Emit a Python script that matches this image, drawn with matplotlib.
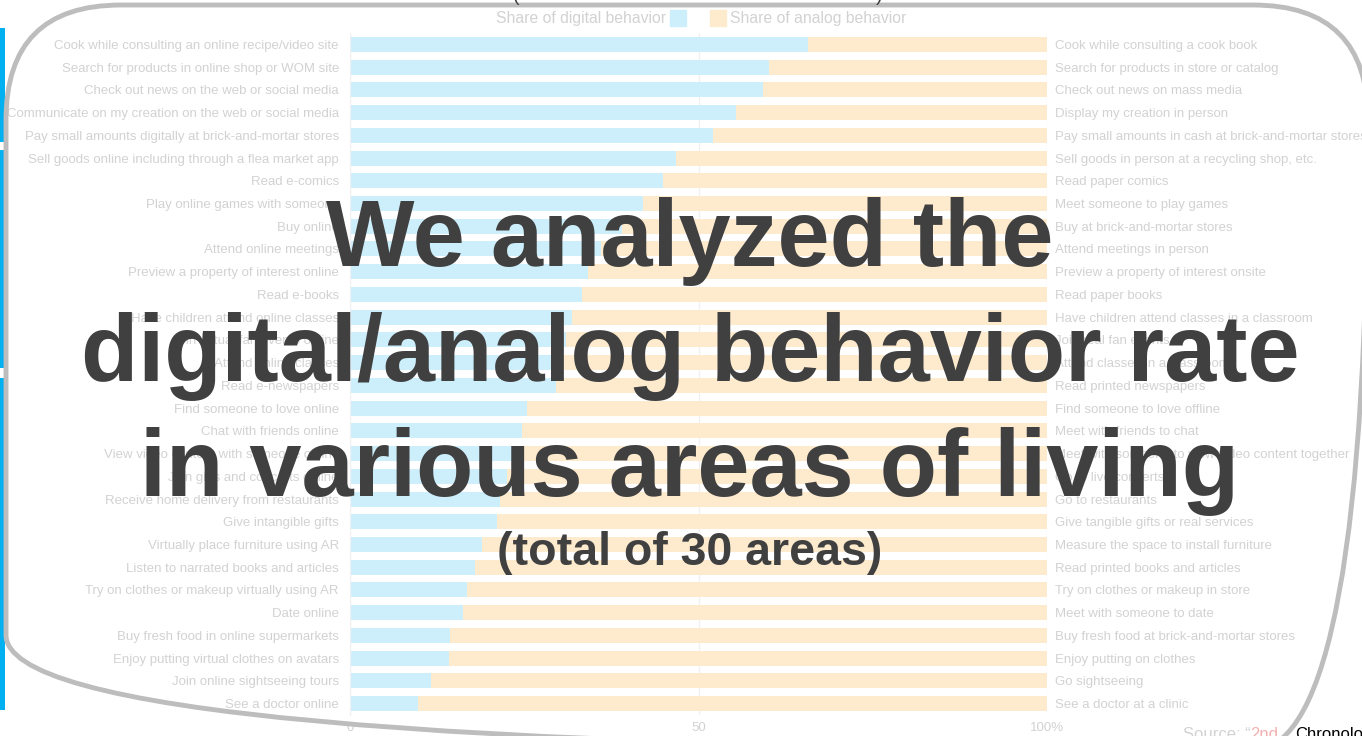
import numpy as np
import matplotlib.pyplot as plt
from matplotlib.patches import FancyBboxPatch, Rectangle

plt.rcParams['font.family'] = ['Liberation Sans', 'DejaVu Sans']

# Digital-side activities (left labels), top to bottom
digital_labels = [
    "Cook while consulting an online recipe/video site",
    "Search for products in online shop or WOM site",
    "Check out news on the web or social media",
    "Communicate on my creation on the web or social media",
    "Pay small amounts digitally at brick-and-mortar stores",
    "Sell goods online including through a flea market app",
    "Read e-comics",
    "Play online games with someone",
    "Buy online",
    "Attend online meetings",
    "Preview a property of interest online",
    "Read e-books",
    "Have children attend online classes",
    "Join virtual fan events online",
    "Attend online classes",
    "Read e-newspapers",
    "Find someone to love online",
    "Chat with friends online",
    "View video content with someone online",
    "Join gigs and concerts online",
    "Receive home delivery from restaurants",
    "Give intangible gifts",
    "Virtually place furniture using AR",
    "Listen to narrated books and articles",
    "Try on clothes or makeup virtually using AR",
    "Date online",
    "Buy fresh food in online supermarkets",
    "Enjoy putting virtual clothes on avatars",
    "Join online sightseeing tours",
    "See a doctor online",
]

# Analog-side counterparts (right labels)
analog_labels = [
    "Cook while consulting a cook book",
    "Search for products in store or catalog",
    "Check out news on mass media",
    "Display my creation in person",
    "Pay small amounts in cash at brick-and-mortar stores",
    "Sell goods in person at a recycling shop, etc.",
    "Read paper comics",
    "Meet someone to play games",
    "Buy at brick-and-mortar stores",
    "Attend meetings in person",
    "Preview a property of interest onsite",
    "Read paper books",
    "Have children attend classes in a classroom",
    "Join real fan events",
    "Attend classes in a classroom",
    "Read printed newspapers",
    "Find someone to love offline",
    "Meet with friends to chat",
    "Meet with someone to view video content together",
    "Go to live concerts",
    "Go to restaurants",
    "Give tangible gifts or real services",
    "Measure the space to install furniture",
    "Read printed books and articles",
    "Try on clothes or makeup in store",
    "Meet with someone to date",
    "Buy fresh food at brick-and-mortar stores",
    "Enjoy putting on clothes",
    "Go sightseeing",
    "See a doctor at a clinic",
]

# Share of digital behavior (%)
digital_share = [65.7, 60.1, 59.3, 55.4, 52.1, 46.8, 44.9, 42.0, 39.0, 36.0,
                 34.1, 33.3, 31.9, 31.0, 30.2, 29.6, 25.4, 24.7, 23.5, 22.5,
                 21.5, 21.1, 18.9, 17.9, 16.8, 16.2, 14.3, 14.2, 11.6, 9.8]
analog_share = [100 - v for v in digital_share]

x_ticks = [0, 50, 100]
x_ticklabels = ["0", "50", "100%"]

headline = ["We analyzed the", "digital/analog behavior rate", "in various areas of living"]

W, H = 1362, 736
fig = plt.figure(figsize=(W / 100, H / 100), dpi=100)

faded_text = '#d2d2d2'
blue = '#cdeffc'
orange = '#feebcd'

# Main chart axes
ax = fig.add_axes([350 / W, 1 - 715 / H, 697 / W, 682 / H])
y = np.arange(len(digital_labels))
ax.barh(y, digital_share, height=0.66, color=blue, zorder=2)
ax.barh(y, analog_share, left=digital_share, height=0.66, color=orange, zorder=2)
ax.set_xlim(0, 100)
ax.set_ylim(len(y) - 0.5, -0.5)
ax.set_yticks(y)
ax.set_yticklabels(digital_labels)
ax.set_xticks(x_ticks)
ax.set_xticklabels(x_ticklabels)
ax.tick_params(axis='y', length=0, pad=8, labelsize=9.5, labelcolor=faded_text)
ax.tick_params(axis='x', length=0, pad=5, labelsize=9.5, labelcolor=faded_text)
ax.grid(axis='x', color='#f0f0f0', linewidth=1, zorder=0)
for s in ['top', 'right', 'bottom']:
    ax.spines[s].set_visible(False)
ax.spines['left'].set_color('#f0f0f0')

# Right-hand labels
ax2 = ax.twinx()
ax2.set_ylim(ax.get_ylim())
ax2.set_yticks(y)
ax2.set_yticklabels(analog_labels)
ax2.tick_params(axis='y', length=0, pad=5.5, labelsize=9.5, labelcolor=faded_text)
for s in ax2.spines.values():
    s.set_visible(False)

# Overlay in pixel coordinates
ov = fig.add_axes([0, 0, 1, 1], zorder=5)
ov.set_xlim(0, W)
ov.set_ylim(H, 0)
ov.axis('off')
ov.patch.set_alpha(0)

# Legend
ov.text(666, 18, "Share of digital behavior", ha='right', va='center',
        fontsize=11.3, color=faded_text)
ov.add_patch(Rectangle((670, 10), 16, 16, color=blue))
ov.add_patch(Rectangle((710, 10), 16, 16, color=orange))
ov.text(730, 18, "Share of analog behavior", ha='left', va='center',
        fontsize=11.3, color=faded_text)

# Tails of a title hidden above the frame
ov.text(516, 1, "(", ha='center', va='baseline', fontsize=14, color='#404040')
ov.text(879, 1, ")", ha='center', va='baseline', fontsize=14, color='#404040')

# Blue side strips
for y0, y1 in [(28, 142), (150, 368), (378, 710)]:
    ov.add_patch(Rectangle((0, y0), 5, y1 - y0, color='#00b0f0', lw=0))

# Rounded frame
ov.add_patch(FancyBboxPatch((6, 5), 1362, 745,
                            boxstyle="round,pad=0,rounding_size=115",
                            fill=False, edgecolor='#bdbdbd', linewidth=3.5))

# Headline
for line, base in zip(headline, [266, 381, 496]):
    ov.text(690, base, line, ha='center', va='baseline', fontsize=67.5,
            fontweight='bold', color='#404040')
ov.text(690, 553, "(total of 30 areas)", ha='center', va='center',
        fontsize=33.5, fontweight='bold', color='#404040')

# Source line (cut off by the figure edge)
ov.text(1183, 727, "Source: \u201c", ha='left', va='top', fontsize=12, color=faded_text)
ov.text(1250, 727, "2nd", ha='left', va='top', fontsize=12, color='#f4b0b0')
ov.text(1295, 727, "Chronolo", ha='left', va='top', fontsize=12, color='black')

fig.savefig('out.png', dpi=100)
